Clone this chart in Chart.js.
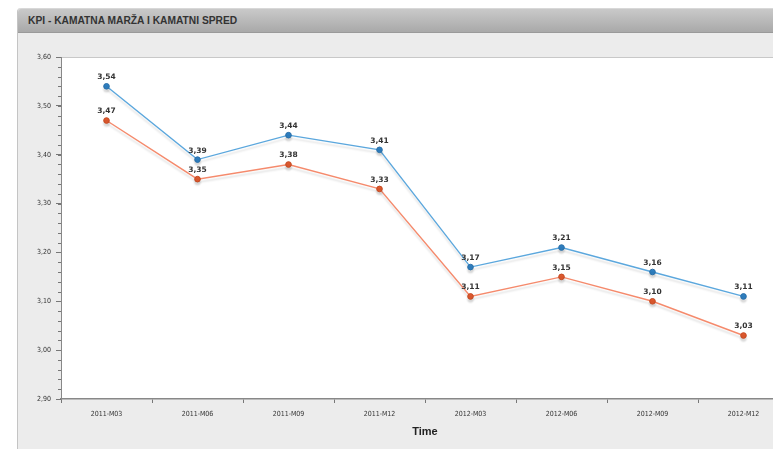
<!DOCTYPE html>
<html>
<head>
<meta charset="utf-8">
<script src="https://cdn.jsdelivr.net/npm/chart.js@4"></script>
<style>
html,body{margin:0;padding:0;width:773px;height:449px;overflow:hidden;background:#fff;}
#panel{position:absolute;left:17px;top:8px;width:800px;height:460px;background:#ececec;border-left:1px solid #c4c4c4;border-top-left-radius:4px;}
#bar{position:absolute;left:0;top:0;width:100%;height:23px;background:linear-gradient(#c9c9c9,#a9a9a9);border-top:1px solid #d8d8d8;border-bottom:1px solid #9a9a9a;border-top-left-radius:4px;}
#title{position:absolute;left:10px;top:5px;font:bold 11px "Liberation Sans",Arial,sans-serif;color:#333;white-space:nowrap;transform:scaleX(0.93);transform-origin:left center;}
#c{position:absolute;left:0;top:0;}
</style>
</head>
<body>
<div id="panel"><div id="bar"><div id="title">KPI - KAMATNA MARŽA I KAMATNI SPRED</div></div></div>
<canvas id="c" width="800" height="449"></canvas>
<script>
const categories = ["2011-M03","2011-M06","2011-M09","2011-M12","2012-M03","2012-M06","2012-M09","2012-M12"];
const marza = [3.54,3.39,3.44,3.41,3.17,3.21,3.16,3.11];
const spred = [3.47,3.35,3.38,3.33,3.11,3.15,3.10,3.03];
const yMin = 2.90, yMax = 3.60, yStep = 0.10, yMinorStep = 0.02;
const axisTitle = "Time";

const fmt = v => v.toFixed(2).replace('.', ',');

const plotBg = {
  id:'plotBg',
  beforeDraw(chart){
    const {ctx, chartArea:a} = chart;
    ctx.save();
    ctx.fillStyle = '#ffffff';
    ctx.fillRect(a.left, a.top, a.right - a.left, a.bottom - a.top);
    ctx.strokeStyle = '#c8c8c8';
    ctx.lineWidth = 1;
    ctx.beginPath();
    ctx.moveTo(a.left, a.top + 0.5); ctx.lineTo(a.right, a.top + 0.5);
    ctx.stroke();
    ctx.restore();
  }
};
const minorTicks = {
  id:'minorTicks',
  afterDraw(chart){
    const y = chart.scales.y, ctx = chart.ctx;
    ctx.save();
    ctx.strokeStyle = '#777';
    ctx.lineWidth = 1;
    const n = Math.round((yMax - yMin) / yMinorStep);
    for (let i = 0; i <= n; i++) {
      const v = yMin + i * yMinorStep;
      const py = Math.round(y.getPixelForValue(v)) + 0.5;
      ctx.beginPath();
      ctx.moveTo(y.right - 3, py); ctx.lineTo(y.right, py);
      ctx.stroke();
    }
    ctx.restore();
  }
};
const lineShadow = {
  id:'lineShadow',
  beforeDatasetsDraw(chart){
    const ctx = chart.ctx;
    ctx.save();
    ctx.shadowColor = 'rgba(0,0,0,0.12)';
    ctx.shadowBlur = 2;
    ctx.shadowOffsetY = 3;
  },
  afterDatasetsDraw(chart){ chart.ctx.restore(); }
};
const dataLabels = {
  id:'dataLabels',
  afterDatasetsDraw(chart){
    const ctx = chart.ctx;
    ctx.save();
    ctx.font = 'bold 7.5px "DejaVu Sans", Verdana, sans-serif';
    ctx.fillStyle = '#333';
    ctx.textAlign = 'center';
    ctx.textBaseline = 'middle';
    chart.data.datasets.forEach((ds, i) => {
      const meta = chart.getDatasetMeta(i);
      meta.data.forEach((pt, j) => {
        ctx.fillText(fmt(ds.data[j]), pt.x, pt.y - 9);
      });
    });
    ctx.restore();
  }
};

new Chart(document.getElementById('c'), {
  type:'line',
  data:{
    labels:categories,
    datasets:[
      {label:'Kamatna marža', data:marza, borderColor:'#5ba7dd', backgroundColor:'#2f80c2', pointBackgroundColor:'#2f80c2', pointBorderColor:'#2a6fa8', pointBorderWidth:1, pointRadius:2.8, borderWidth:1.4, tension:0, fill:false},
      {label:'Kamatni spred', data:spred, borderColor:'#f58a6c', backgroundColor:'#e05a2f', pointBackgroundColor:'#e05a2f', pointBorderColor:'#c44a22', pointBorderWidth:1, pointRadius:2.8, borderWidth:1.4, tension:0, fill:false}
    ]
  },
  options:{
    responsive:false,
    animation:false,
    devicePixelRatio:1,
    layout:{padding:{left:0,top:57,right:11,bottom:0}},
    plugins:{legend:{display:false}, tooltip:{enabled:false}, title:{display:false}},
    scales:{
      x:{
        type:'category',
        offset:true,
        grid:{offset:true, drawOnChartArea:false, drawTicks:true, tickLength:4, color:'#777'},
        border:{color:'#888', width:1.5},
        ticks:{color:'#333', font:{family:'"DejaVu Sans Condensed","DejaVu Sans",sans-serif', size:7}, padding:7, maxRotation:0, autoSkip:false},
        title:{display:true, text:axisTitle, color:'#222', font:{family:'"Liberation Sans",Arial,sans-serif', size:11, weight:'bold'}, padding:{top:6, bottom:10}},
        afterFit(s){ s.height = 50; }
      },
      y:{
        min:yMin, max:yMax,
        grid:{drawOnChartArea:false, drawTicks:true, tickLength:5, color:'#777'},
        border:{color:'#888', width:1},
        ticks:{stepSize:yStep, color:'#333', font:{family:'"DejaVu Sans Condensed","DejaVu Sans",sans-serif', size:7}, padding:5, callback:v => fmt(v)},
        afterFit(s){ s.width = 61; }
      }
    }
  },
  plugins:[plotBg, minorTicks, lineShadow, dataLabels]
});
</script>
</body>
</html>
